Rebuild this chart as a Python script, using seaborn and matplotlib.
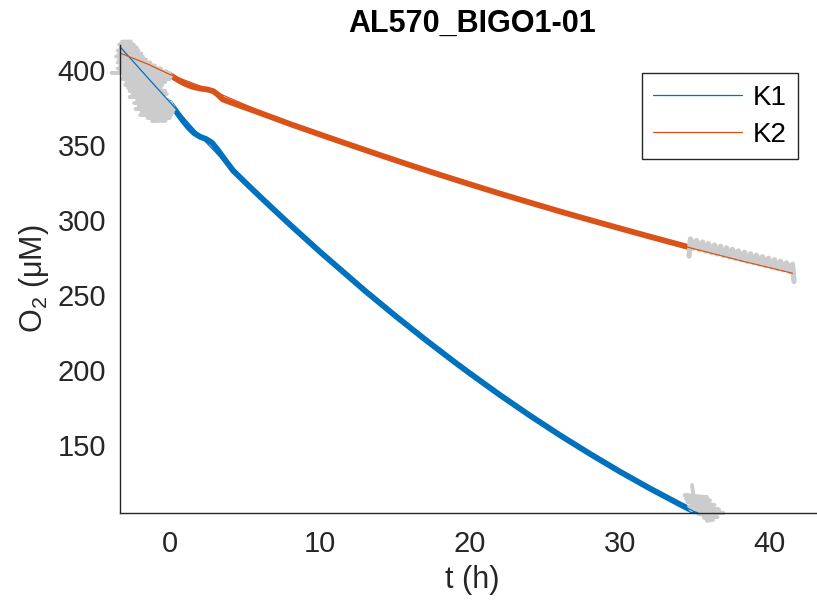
import matplotlib
matplotlib.use('Agg')
import matplotlib.pyplot as plt
import seaborn as sns

# ---------------- data ----------------
title = 'AL570_BIGO1-01'
series_names = ['K1', 'K2']
x_ticks = [0, 10, 20, 30, 40]
y_ticks = [150, 200, 250, 300, 350, 400]

# thick measured data (incubation period)
k1_t = [0, 0.4, 0.8, 1.2, 1.6, 2.0, 2.4, 2.8, 3.2, 3.6, 4.2, 5, 6, 7, 8, 10, 13, 15, 17, 19, 20, 22, 24,
        26, 28, 30, 32, 34, 34.9]
k1_o2 = [378, 372.5, 367, 362, 358, 355.5, 354, 351.5, 346.5, 341, 333, 325.2, 315.6, 306.2, 296.9, 278.8,
         252.8, 236.3, 220.4, 205.1, 197.7, 183.3, 169.6, 156.5, 144.1, 132.2, 121, 110.4, 105.8]

k2_t = [0, 0.5, 1.0, 1.5, 2.0, 2.5, 2.9, 3.2, 3.5, 4, 5, 6, 7, 8, 9, 10, 12, 14, 16, 18, 20, 22, 24, 26,
        28, 30, 32, 34, 34.7]
k2_o2 = [396.7, 393.5, 390.8, 388.8, 387.7, 387, 385.8, 383.5, 380.5, 378.6, 375, 371.4, 367.7, 364, 360.5,
         357, 350.1, 343.3, 336.6, 330.1, 323.8, 317.6, 311.6, 305.7, 300, 294.4, 288.9, 283.5, 281.6]

# thin fitted curves
k1_fit_t = [-3.33, -1.5, 0, 2, 4.2, 8, 13, 19, 26, 30, 34.9, 35.2]
k1_fit_o2 = [415.5, 395, 378.5, 356, 333, 296.9, 252.8, 205.1, 156.5, 132.2, 105.8, 104.7]
k2_fit_t = [-3.33, -1.5, 0, 3, 8, 14, 20, 26, 30, 34.7, 38, 41.5]
k2_fit_o2 = [411.3, 404, 397, 385.5, 364, 343.3, 323.8, 305.7, 294.4, 281.4, 273, 264.5]

# grey raw data outside the fitted window
raw_pre_t = [-3.2, -2.6, -3.4, -2.4, -3.3, -2.2, -3.5, -2.1, -3.4, -1.9, -3.6, -1.8, -3.4, -1.6, -3.5, -1.3,
             -3.3, -1.0, -3.5, -0.6, -3.3, -0.2, -3.9, 0.0, -3.1, 0.1, -3.2, 0.0, -2.9, -0.3, -3.0, -0.5,
             -2.8, -0.6, -2.7, -0.3, -2.5, -0.2, -2.7, -0.4, -2.2, -0.1, -2.4, 0.1, -2.1, 0.2, -2.3, 0.3,
             -1.9, 0.2, -2.0, 0.1, -1.5, 0.0, -1.2, -0.3]
raw_pre_o2 = [419, 419, 417, 417, 415, 415, 413, 413, 411, 411, 409, 409, 407, 407, 405, 405,
              403, 403, 401, 401, 399, 399, 398, 398, 396, 396, 394, 394, 392, 392, 390, 390,
              388, 388, 386, 386, 384, 384, 382, 382, 380, 380, 378, 378, 376, 376, 374, 374,
              372, 372, 370, 370, 368, 368, 366, 366]

raw_k1_end_t = [34.8, 34.9, 34.3, 35.8, 34.4, 36.0, 34.5, 36.3, 34.6, 36.6, 34.7, 36.9, 35.2, 36.5, 35.6,
                36.2, 35.8]
raw_k1_end_o2 = [123.3, 116, 116.5, 115.3, 114, 113, 112, 110, 109, 107, 107, 104.7, 104, 102, 101.5,
                 100, 99.5]

raw_k2_end_t = [34.6, 34.7, 34.9, 35.1, 35.3, 35.5, 35.7, 35.9, 36.1, 36.3, 36.5, 36.7, 36.9, 37.1, 37.3,
                37.5, 37.7, 37.9, 38.1, 38.3, 38.5, 38.7, 38.9, 39.1, 39.3, 39.5, 39.7, 39.9, 40.1, 40.3,
                40.5, 40.7, 40.9, 41.1, 41.3, 41.5, 41.6]
raw_k2_end_o2 = [276, 287.3, 281.2, 286.3, 280.2, 285.3, 279.3, 284.3, 278.3, 283.3, 277.3, 282.4, 276.4, 281.4, 275.4,
                 280.4, 274.5, 279.4, 273.5, 278.5, 272.5, 277.5, 271.6, 276.5, 270.6, 275.5, 269.7, 274.5, 268.7, 273.5,
                 267.7, 272.5, 266.8, 271.5, 265.8, 270.5, 259]

# ---------------- style ----------------
sns.set_theme(style='white')
plt.rcParams['font.family'] = ['Liberation Sans', 'DejaVu Sans']
plt.rcParams['mathtext.fontset'] = 'custom'
plt.rcParams['mathtext.rm'] = 'Liberation Sans'

blue = '#0072BD'
orange = '#D95319'
grey = '#CCCCCC'
axcol = '#262626'

fig = plt.figure(figsize=(8.17, 6.05), dpi=100)
ax = fig.add_axes([120 / 817, 92 / 605, 704 / 817, 468.5 / 605])

# thick data
sns.lineplot(x=k1_t, y=k1_o2, sort=False, estimator=None, color=blue, lw=4.2, ax=ax,
             solid_capstyle='round', solid_joinstyle='round')
sns.lineplot(x=k2_t, y=k2_o2, sort=False, estimator=None, color=orange, lw=4.2, ax=ax,
             solid_capstyle='round', solid_joinstyle='round')

# grey raw data
for tt, oo, w in [(raw_pre_t, raw_pre_o2, 2.6), (raw_k1_end_t, raw_k1_end_o2, 2.8),
                  (raw_k2_end_t, raw_k2_end_o2, 3.8)]:
    sns.lineplot(x=tt, y=oo, sort=False, estimator=None, color=grey, lw=w, ax=ax)
    ax.lines[-1].set_clip_on(False)

# thin fits
sns.lineplot(x=k1_fit_t, y=k1_fit_o2, sort=False, estimator=None, color=blue, lw=0.9, ax=ax)
h1 = ax.lines[-1]
sns.lineplot(x=k2_fit_t, y=k2_fit_o2, sort=False, estimator=None, color=orange, lw=0.9, ax=ax)
h2 = ax.lines[-1]

ax.set_xlim(-3.333, 43.6)
ax.set_ylim(104.67, 417)
ax.set_xticks(x_ticks)
ax.set_yticks(y_ticks)

for s in ['top', 'right']:
    ax.spines[s].set_visible(False)
for s in ['left', 'bottom']:
    ax.spines[s].set_color(axcol)
    ax.spines[s].set_linewidth(1.0)
ax.tick_params(direction='in', length=6, width=1.0, colors=axcol, labelsize=21, pad=10,
               labelcolor=axcol)
ax.tick_params(axis='x', pad=12)

ax.set_xlabel('t (h)', fontsize=22, color=axcol, labelpad=5)
ax.set_ylabel(r'O$_\mathregular{2}$ (μM)', fontsize=22, color=axcol, labelpad=5)
ax.set_title(title, fontsize=22, fontweight='bold', color='black', pad=9)

leg = ax.legend([h1, h2], series_names, loc='upper right',
                bbox_to_anchor=(798 / 817, 1 - 73 / 605), bbox_transform=fig.transFigure,
                fontsize=20, frameon=True, fancybox=False, framealpha=1, handlelength=3.2,
                handletextpad=0.36, labelspacing=0.4, borderpad=0.42, borderaxespad=0)
leg.get_frame().set_edgecolor(axcol)
leg.get_frame().set_linewidth(1.0)
for t in leg.get_texts():
    t.set_color('black')

fig.savefig('out.png', dpi=100)
